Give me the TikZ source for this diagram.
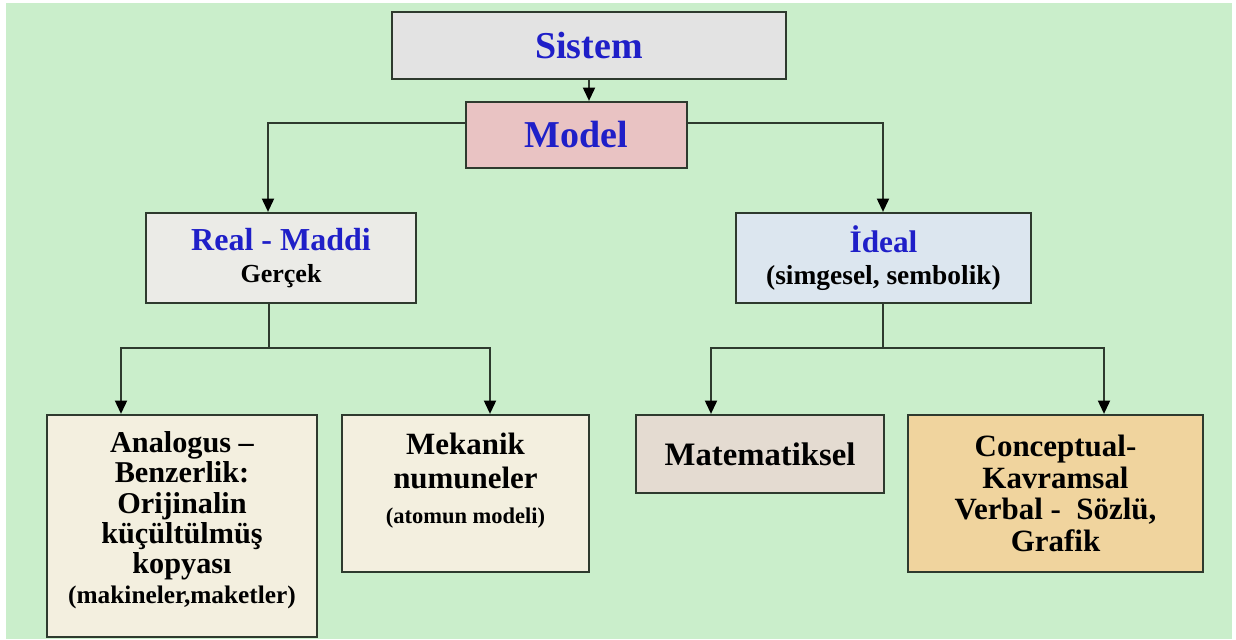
\documentclass[tikz,border=0pt]{standalone}
\usepackage{fontspec}
\setmainfont{Liberation Serif}
\usetikzlibrary{arrows.meta}
\definecolor{bggreen}{HTML}{CAEECB}
\definecolor{boxline}{HTML}{2E3A2E}
\definecolor{titleblue}{HTML}{1F1FC8}
\definecolor{marble}{HTML}{E3E3E3}
\definecolor{rosy}{HTML}{E9C3C3}
\definecolor{granite}{HTML}{EBEBE7}
\definecolor{paleblue}{HTML}{DCE6EF}
\definecolor{cream}{HTML}{F3EFDF}
\definecolor{canvas}{HTML}{E4DBD1}
\definecolor{papyrus}{HTML}{F0D49E}

\begin{document}
\begin{tikzpicture}[
    x=0.01cm, y=-0.01cm,
    block/.style={draw=boxline, line width=0.6pt, align=center, inner sep=0pt, font=\bfseries},
    words/.style={align=center, inner sep=0pt},
    link/.style={draw=boxline, line width=0.6pt},
    >={Triangle[length=3.8pt,width=3.4pt,color=black]},
]
    % Frame
    \useasboundingbox (0,0) rectangle (1236,639);
    \fill[white] (0,0) rectangle (1236,639);
    \fill[bggreen] (6,3) rectangle (1232,639);

    % Top
    \node[block, fill=marble, minimum width=3.94cm, minimum height=0.67cm, text=titleblue,
          font=\bfseries\fontsize{10.8}{12}\selectfont] (sis) at (589,45.5) {Sistem};
    \node[block, fill=rosy, minimum width=2.21cm, minimum height=0.66cm, text=titleblue,
          font=\bfseries\fontsize{10.8}{12}\selectfont] (mod) at (576.5,135) {Model};

    % Second row
    \node[block, fill=granite, minimum width=2.70cm, minimum height=0.90cm] (rea) at (281,258)
        {{\color{titleblue}\fontsize{9.1}{10}\selectfont Real - Maddi}\\[-3pt]{\fontsize{7.4}{8}\selectfont Gerçek}};
    \node[block, fill=paleblue, minimum width=2.95cm, minimum height=0.90cm] (ide) at (883.5,258)
        {{\color{titleblue}\fontsize{8.9}{10}\selectfont İdeal}\\[-2.7pt]{\fontsize{7.8}{8}\selectfont (simgesel, sembolik)}};

    % Bottom row
    \node[block, fill=cream, minimum width=2.70cm, minimum height=2.22cm] (ana) at (182,526) {};
    \node[words, anchor=north, font=\bfseries\fontsize{8.6}{8.6}\selectfont] (anatxt) at (182,431)
        {Analogus –\\Benzerlik:\\Orijinalin\\küçültülmüş\\kopyası\\{\fontsize{7.2}{8.6}\selectfont (makineler,maketler)}};
    \node[block, fill=cream, minimum width=2.47cm, minimum height=1.57cm] (mek) at (465.5,493.5) {};
    \node[words, anchor=north, font=\bfseries\fontsize{8.8}{9.8}\selectfont] (mektxt) at (465.5,432)
        {Mekanik\\numuneler\\{\fontsize{6.4}{8}\selectfont (atomun modeli)}};
    \node[block, fill=canvas, minimum width=2.48cm, minimum height=0.78cm,
          font=\bfseries\fontsize{9.3}{10}\selectfont] (mat) at (760,454) {Matematiksel};
    \node[block, fill=papyrus, minimum width=2.95cm, minimum height=1.57cm,
          font=\bfseries\fontsize{8.8}{9}\selectfont] (con) at (1055.5,493.5)
        {Conceptual-\\Kavramsal\\Verbal -~~Sözlü,\\Grafik};

    % Sistem to Model
    \draw[link, ->] (sis.south) -- (sis.south |- mod.north);

    % Model branches
    \coordinate (mL) at (268,123);
    \coordinate (mR) at (883,123);
    \draw[link, ->] (mod.west |- mL) -- (mL) -- (mL |- rea.north);
    \draw[link, ->] (mod.east |- mR) -- (mR) -- (mR |- ide.north);

    % Real branches
    \coordinate (rJ) at (269,348);
    \coordinate (rL) at (121,348);
    \coordinate (rR) at (490,348);
    \draw[link] (rea.south -| rJ) -- (rJ);
    \draw[link, ->] (rJ) -- (rL) -- (rL |- ana.north);
    \draw[link, ->] (rJ) -- (rR) -- (rR |- mek.north);

    % Ideal branches
    \coordinate (iJ) at (883,348);
    \coordinate (iL) at (711,348);
    \coordinate (iR) at (1104,348);
    \draw[link] (ide.south -| iJ) -- (iJ);
    \draw[link, ->] (iJ) -- (iL) -- (iL |- mat.north);
    \draw[link, ->] (iJ) -- (iR) -- (iR |- con.north);
\end{tikzpicture}
\end{document}
